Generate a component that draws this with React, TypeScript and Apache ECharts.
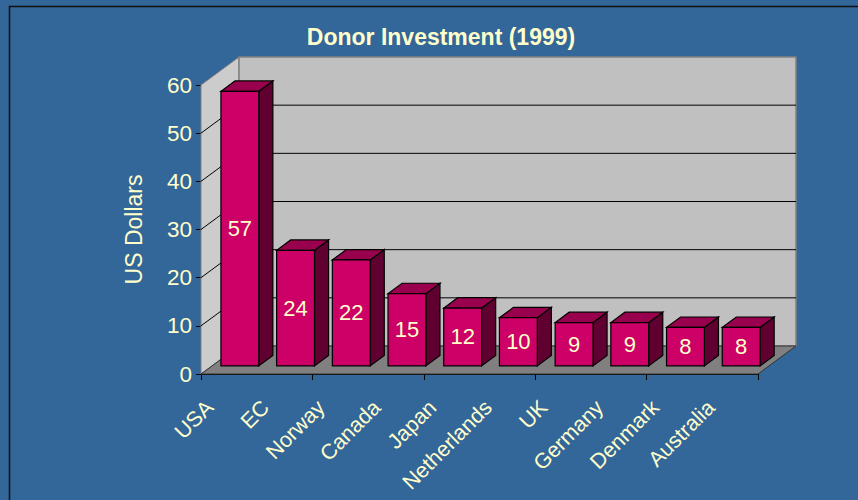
import React, { useEffect, useRef } from 'react';
import * as echarts from 'echarts';

const categories = ['USA', 'EC', 'Norway', 'Canada', 'Japan', 'Netherlands', 'UK', 'Germany', 'Denmark', 'Australia'];
const values = [57, 24, 22, 15, 12, 10, 9, 9, 8, 8];
const gridValues = [10, 20, 30, 40, 50];
const titleText = 'Donor Investment (1999)';
const yAxisName = 'US Dollars';

export default function App() {
  const ref = useRef<HTMLDivElement>(null);
  useEffect(() => {
    const chart = echarts.init(ref.current!, null, { renderer: 'svg' });
    const DX = 38, DY = -28;
    const FRONT = 0.29, DEPTH = 0.37;
    const txt = '#FFFFCC';
    const font = '"Liberation Sans", Arial, sans-serif';

    const renderWalls = (params: any, api: any) => {
      const cs = params.coordSys;
      const x0 = cs.x, x1 = cs.x + cs.width;
      const yv = (v: number) => api.coord([0, v])[1];
      const yb = yv(0), yt = yv(60);
      const children: any[] = [
        {
          type: 'polygon',
          shape: { points: [[x0, yt], [x0 + DX, yt + DY], [x0 + DX, yb + DY], [x0, yb]] },
          style: { fill: '#CCCCCC', stroke: '#808080', lineWidth: 1 },
        },
        {
          type: 'polygon',
          shape: { points: [[x0 + DX, yt + DY], [x1 + DX, yt + DY], [x1 + DX, yb + DY], [x0 + DX, yb + DY]] },
          style: { fill: '#C0C0C0', stroke: '#808080', lineWidth: 1.5 },
        },
        {
          type: 'polygon',
          shape: { points: [[x0, yb], [x0 + DX, yb + DY], [x1 + DX, yb + DY], [x1, yb]] },
          style: { fill: '#808080', stroke: '#333333', lineWidth: 1 },
        },
      ];
      gridValues.forEach((v) => {
        const y = yv(v);
        children.push({
          type: 'polyline',
          shape: { points: [[x0, y], [x0 + DX, y + DY], [x1 + DX, y + DY]] },
          style: { stroke: '#000000', lineWidth: 1, fill: 'none' },
        });
      });
      return { type: 'group', children };
    };

    const renderBars = (params: any, api: any) => {
      const i = api.value(0), v = api.value(1);
      const b = api.coord([i, 0]);
      const t = api.coord([i, v]);
      const w = api.size([1, 0])[0] * 0.68;
      const fx = DX * FRONT, fy = DY * FRONT, dx = DX * DEPTH, dy = DY * DEPTH;
      const x0 = b[0] - w / 2 + fx, x1 = x0 + w;
      const yb = b[1] + fy, yt = t[1] + fy;
      return {
        type: 'group',
        children: [
          {
            type: 'polygon',
            shape: { points: [[x1, yt], [x1, yb], [x1 + dx, yb + dy], [x1 + dx, yt + dy]] },
            style: { fill: '#600030', stroke: '#000', lineWidth: 1.2 },
          },
          {
            type: 'polygon',
            shape: { points: [[x0, yt], [x1, yt], [x1 + dx, yt + dy], [x0 + dx, yt + dy]] },
            style: { fill: '#99004D', stroke: '#000', lineWidth: 1.2 },
          },
          {
            type: 'rect',
            shape: { x: x0, y: yt, width: w, height: yb - yt },
            style: { fill: '#CC0066', stroke: '#000', lineWidth: 1.2 },
          },
          {
            type: 'text',
            x: x0 + w / 2,
            y: (yt + yb) / 2,
            style: { text: String(v), fill: txt, fontSize: 22, fontFamily: font, align: 'center', verticalAlign: 'middle' },
          },
          {
            type: 'text',
            x: b[0] - 19,
            y: b[1] + 30,
            rotation: Math.PI / 4,
            style: { text: categories[params.dataIndex], fill: txt, fontSize: 21.5, fontFamily: font, align: 'right', verticalAlign: 'middle' },
          },
        ],
      };
    };

    chart.setOption({
      animation: false,
      backgroundColor: '#336699',
      title: {
        text: titleText,
        left: 436,
        top: 20,
        textAlign: 'center',
        textStyle: { color: txt, fontSize: 23, fontWeight: 'bold', fontFamily: font },
      },
      grid: { left: 201, right: 100, top: 85, bottom: 126, containLabel: false },
      xAxis: {
        type: 'category',
        data: categories,
        axisLine: { show: true, lineStyle: { color: '#000', width: 1 } },
        axisTick: { show: true, length: 6, lineStyle: { color: '#000' } },
        axisLabel: { show: false },
        splitLine: { show: false },
      },
      yAxis: {
        type: 'value',
        min: 0,
        max: 60,
        interval: 10,
        name: yAxisName,
        nameLocation: 'middle',
        nameGap: 56,
        nameTextStyle: { color: txt, fontSize: 23, fontFamily: font },
        axisLine: { show: true, lineStyle: { color: '#000', width: 1 } },
        axisTick: { show: true, length: 5, lineStyle: { color: '#000' } },
        axisLabel: { color: txt, fontSize: 22.5, margin: 9, fontFamily: font },
        splitLine: { show: false },
      },
      series: [
        { type: 'custom', z: 1, data: [[0, 0]], renderItem: renderWalls, silent: true },
        { type: 'custom', z: 3, data: values.map((v, i) => [i, v]), renderItem: renderBars },
      ],
      graphic: [
        {
          type: 'rect',
          left: 7,
          top: 4,
          shape: { x: 0, y: 0, width: 900, height: 600 },
          style: { fill: 'none', stroke: '#111111', lineWidth: 1.5 },
          silent: true,
        },
      ],
    });
    return () => chart.dispose();
  }, []);
  return <div ref={ref} style={{ position: 'fixed', left: 0, top: 0, width: 858, height: 500 }} />;
}
